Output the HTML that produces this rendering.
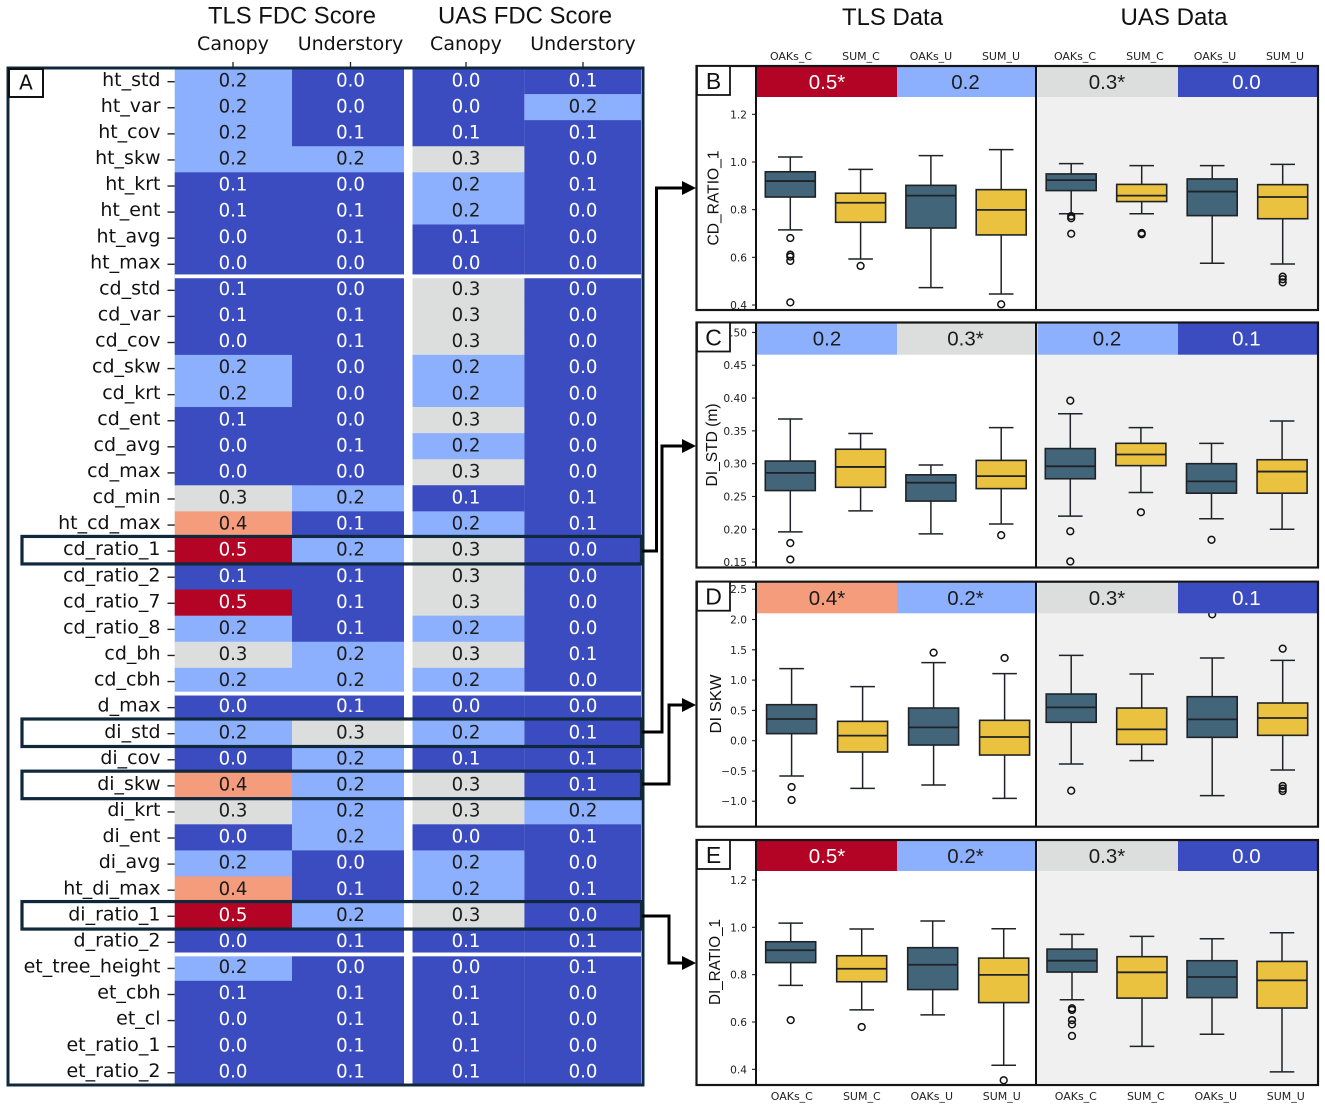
<!DOCTYPE html>
<html lang="en">
<head>
<meta charset="utf-8">
<title>FDC score heatmap and box plots</title>
<style>
html,body{margin:0;padding:0;background:#fff;}
body{width:1325px;height:1106px;overflow:hidden;}
svg{display:block;}
text{font-family:"DejaVu Sans","Liberation Sans",sans-serif;}
.lib{font-family:"Liberation Sans",sans-serif;}
</style>
</head>
<body>
<svg id="fig" xmlns="http://www.w3.org/2000/svg" width="1325" height="1106" viewBox="0 0 1325 1106">
  <rect x="0" y="0" width="1325" height="1106" fill="#fff"/>
  <text class="lib" x="292" y="23.5" font-size="24" text-anchor="middle" textLength="168" lengthAdjust="spacingAndGlyphs" fill="#111">TLS FDC Score</text>
  <text class="lib" x="525" y="23.5" font-size="24" text-anchor="middle" textLength="174" lengthAdjust="spacingAndGlyphs" fill="#111">UAS FDC Score</text>
  <text class="lib" x="892.5" y="25" font-size="24" text-anchor="middle" textLength="101" lengthAdjust="spacingAndGlyphs" fill="#111">TLS Data</text>
  <text class="lib" x="1174" y="25" font-size="24" text-anchor="middle" textLength="107" lengthAdjust="spacingAndGlyphs" fill="#111">UAS Data</text>
  <g id="heatmap"></g>
  <g id="panels"></g>
  <g fill="none" stroke="#000" stroke-width="3">
    <polyline points="642,551 656.5,551 656.5,188 684,188"/>
    <polygon points="682,181 696,188 682,195" fill="#000" stroke="none"/>
    <polyline points="642,732 662,732 662,446 684,446"/>
    <polygon points="682,439 696,446 682,453" fill="#000" stroke="none"/>
    <polyline points="642,784 669,784 669,705 684,705"/>
    <polygon points="682,698 696,705 682,712" fill="#000" stroke="none"/>
    <polyline points="642,916 669,916 669,963 684,963"/>
    <polygon points="682,956 696,963 682,970" fill="#000" stroke="none"/>
  </g>
</svg>
<script>
/* ---------- Heatmap data ---------- */
var rowLabels = ["ht_std","ht_var","ht_cov","ht_skw","ht_krt","ht_ent","ht_avg","ht_max","cd_std","cd_var","cd_cov","cd_skw","cd_krt","cd_ent","cd_avg","cd_max","cd_min","ht_cd_max","cd_ratio_1","cd_ratio_2","cd_ratio_7","cd_ratio_8","cd_bh","cd_cbh","d_max","di_std","di_cov","di_skw","di_krt","di_ent","di_avg","ht_di_max","di_ratio_1","d_ratio_2","et_tree_height","et_cbh","et_cl","et_ratio_1","et_ratio_2"];
var columnLabels = ["Canopy","Understory","Canopy","Understory"];
var tlsCanopy     = [0.2,0.2,0.2,0.2,0.1,0.1,0.0,0.0,0.1,0.1,0.0,0.2,0.2,0.1,0.0,0.0,0.3,0.4,0.5,0.1,0.5,0.2,0.3,0.2,0.0,0.2,0.0,0.4,0.3,0.0,0.2,0.4,0.5,0.0,0.2,0.1,0.0,0.0,0.0];
var tlsUnderstory = [0.0,0.0,0.1,0.2,0.0,0.1,0.1,0.0,0.0,0.1,0.1,0.0,0.0,0.0,0.1,0.0,0.2,0.1,0.2,0.1,0.1,0.1,0.2,0.2,0.1,0.3,0.2,0.2,0.2,0.2,0.0,0.1,0.2,0.1,0.0,0.1,0.1,0.1,0.1];
var uasCanopy     = [0.0,0.0,0.1,0.3,0.2,0.2,0.1,0.0,0.3,0.3,0.3,0.2,0.2,0.3,0.2,0.3,0.1,0.2,0.3,0.3,0.3,0.2,0.3,0.2,0.0,0.2,0.1,0.3,0.3,0.0,0.2,0.2,0.3,0.1,0.0,0.1,0.1,0.1,0.1];
var uasUnderstory = [0.1,0.2,0.1,0.0,0.1,0.0,0.0,0.0,0.0,0.0,0.0,0.0,0.0,0.0,0.0,0.0,0.1,0.1,0.0,0.0,0.0,0.0,0.1,0.0,0.0,0.1,0.1,0.1,0.2,0.1,0.0,0.1,0.0,0.1,0.1,0.0,0.0,0.0,0.0];
var groupBreakRows = ["ht_max","cd_cbh","d_ratio_2"];
var highlightedRows = ["cd_ratio_1","di_std","di_skw","di_ratio_1"];

/* ---------- Box-plot data ---------- */
var boxCategories = ["OAKs_C","SUM_C","OAKs_U","SUM_U","OAKs_C","SUM_C","OAKs_U","SUM_U"];

var cdRatio1Scores = [0.5,0.2,0.3,0.0];
var cdRatio1Signif = [true,false,true,false];
var cdRatio1Ticks  = [1.2,1.0,0.8,0.6,0.4];
var cdRatio1High   = [1.021,0.969,1.027,1.052,0.993,0.985,0.985,0.990];
var cdRatio1Q3     = [0.959,0.869,0.902,0.884,0.950,0.906,0.929,0.905];
var cdRatio1Median = [0.920,0.829,0.859,0.799,0.924,0.859,0.876,0.853];
var cdRatio1Q1     = [0.853,0.747,0.723,0.694,0.880,0.834,0.775,0.762];
var cdRatio1Low    = [0.715,0.593,0.473,0.446,0.783,0.783,0.575,0.572];
var cdRatio1Fliers = [[0.681,0.611,0.603,0.585,0.411],[0.564],[],[0.403],[0.773,0.764,0.699],[0.702,0.697],[],[0.519,0.508,0.495]];

var diStdScores = [0.2,0.3,0.2,0.1];
var diStdSignif = [false,true,false,false];
var diStdTicks  = [0.50,0.45,0.40,0.35,0.30,0.25,0.20,0.15];
var diStdHigh   = [0.368,0.346,0.298,0.355,0.376,0.355,0.331,0.365];
var diStdQ3     = [0.304,0.322,0.283,0.305,0.323,0.331,0.300,0.306];
var diStdMedian = [0.286,0.295,0.271,0.281,0.296,0.314,0.273,0.288];
var diStdQ1     = [0.259,0.264,0.243,0.262,0.277,0.297,0.255,0.255];
var diStdLow    = [0.196,0.228,0.193,0.208,0.220,0.256,0.216,0.200];
var diStdFliers = [[0.179,0.154],[],[],[0.191],[0.396,0.197,0.151],[0.226],[0.184],[]];

var diSkwScores = [0.4,0.2,0.3,0.1];
var diSkwSignif = [true,true,true,false];
var diSkwTicks  = [2.5,2.0,1.5,1.0,0.5,0.0,-0.5,-1.0];
var diSkwHigh   = [1.189,0.892,1.288,1.106,1.409,1.100,1.365,1.326];
var diSkwQ3     = [0.594,0.319,0.539,0.336,0.770,0.539,0.726,0.622];
var diSkwMedian = [0.358,0.083,0.220,0.061,0.550,0.187,0.352,0.374];
var diSkwQ1     = [0.116,-0.187,-0.072,-0.237,0.303,-0.061,0.055,0.088];
var diSkwLow    = [-0.583,-0.787,-0.732,-0.952,-0.385,-0.330,-0.908,-0.484];
var diSkwFliers = [[-0.765,-0.980],[],[1.453],[1.365],[-0.826],[],[2.086],[1.519,-0.748,-0.793,-0.831]];

var diRatio1Scores = [0.5,0.2,0.3,0.0];
var diRatio1Signif = [true,true,true,false];
var diRatio1Ticks  = [1.2,1.0,0.8,0.6,0.4];
var diRatio1High   = [1.018,0.993,1.027,0.994,0.970,0.962,0.952,0.977];
var diRatio1Q3     = [0.939,0.880,0.914,0.870,0.908,0.876,0.859,0.856];
var diRatio1Median = [0.903,0.825,0.842,0.799,0.859,0.810,0.790,0.776];
var diRatio1Q1     = [0.851,0.770,0.737,0.682,0.811,0.701,0.703,0.659];
var diRatio1Low    = [0.755,0.651,0.630,0.417,0.694,0.497,0.548,0.389];
var diRatio1Fliers = [[0.608],[0.579],[],[0.354],[0.658,0.651,0.608,0.590,0.541],[],[],[]];

/* ---------- Helpers ---------- */
var NS = "http://www.w3.org/2000/svg";
function mk(tag, attrs, parent, txt) {
  var e = document.createElementNS(NS, tag);
  for (var k in attrs) e.setAttribute(k, attrs[k]);
  if (txt !== undefined) e.textContent = txt;
  parent.appendChild(e);
  return e;
}
function scoreColor(v) {
  if (v < 0.15) return "#3b4cc0";
  if (v < 0.25) return "#8db0fe";
  if (v < 0.35) return "#dcdddd";
  if (v < 0.45) return "#f59c7d";
  return "#b40426";
}
function scoreTextColor(v) {
  return (v < 0.15 || v > 0.45) ? "#ffffff" : "#1c1c1c";
}

/* ---------- Heatmap ---------- */
var hm = document.getElementById("heatmap");
var columns = [tlsCanopy, tlsUnderstory, uasCanopy, uasUnderstory];
var hmTop = 66, rowStep = 26.08, cellShift = 2;
var colEdges = [[174.7,292],[292,404],[412.5,524.4],[524.4,641]];
var colCenters = [233,350.5,466,583];
function rowY(i) { return hmTop + rowStep * i; }
function cellY(i) { return rowY(i) + cellShift; }

var hmBg = mk("rect", {x:8.5, y:68, width:634, height:1017, fill:"#fff"}, hm);



columns.forEach(function (vals, c) {
  var lab = mk("text", {x:colCenters[c], y:50, "font-size":19, "text-anchor":"middle", fill:"#111"}, hm, columnLabels[c]);
  
  
  var tk = mk("line", {x1:colCenters[c], x2:colCenters[c], y1:62, y2:67, stroke:"#222", "stroke-width":1.3}, hm);
  
  
  vals.forEach(function (v, r) {
    var cell = mk("rect", {x:colEdges[c][0], y:cellY(r), width:colEdges[c][1]-colEdges[c][0], height:rowStep+0.4, fill:scoreColor(v)}, hm);
    
    
  });
});
groupBreakRows.forEach(function (name) {
  var r = rowLabels.indexOf(name);
  var brk = mk("rect", {x:174.7, y:cellY(r+1)-2.2, width:466.3, height:3.8, fill:"#fff"}, hm);
  
  
});
columns.forEach(function (vals, c) {
  vals.forEach(function (v, r) {
    var t = mk("text", {x:colCenters[c], y:rowY(r)+20.3, "font-size":19, "text-anchor":"middle", textLength:28.8, lengthAdjust:"spacingAndGlyphs", fill:scoreTextColor(v)}, hm, v.toFixed(1));
    
    
  });
});
rowLabels.forEach(function (name, r) {
  var t = mk("text", {x:160.5, y:rowY(r)+19.8, "font-size":19, "text-anchor":"end", fill:"#111"}, hm, name);
  
  
  var tk = mk("line", {x1:167.5, x2:174.7, y1:rowY(r)+15.7, y2:rowY(r)+15.7, stroke:"#222", "stroke-width":1.4}, hm);
  
  
});
var hmFrame = mk("rect", {x:8, y:68, width:635, height:1017, fill:"none", stroke:"#10283c", "stroke-width":3}, hm);


highlightedRows.forEach(function (name) {
  var r = rowLabels.indexOf(name);
  var h = mk("rect", {x:22, y:cellY(r)-1, width:619.5, height:27.5, fill:"none", stroke:"#10283c", "stroke-width":3.2}, hm);
  
  
});
var hmLetterBox = mk("rect", {x:9, y:69, width:34, height:28, fill:"#fff", stroke:"#111", "stroke-width":2}, hm);


var hmLetter = mk("text", {x:26, y:89.5, "font-size":20, "text-anchor":"middle", fill:"#111"}, hm, "A");



/* ---------- Box-plot panels ---------- */
var panelHost = document.getElementById("panels");
function drawPanel(p) {
  var g = mk("g", {}, panelHost);
  
  

  function y(v) { return p.refPx + (p.refVal - v) * p.pxPerUnit; }
  function x(i) { return i < 4 ? p.tls0 + p.tlsStep * i : p.uas0 + p.uasStep * (i - 4); }

  var left = 696.5, axisX = 756, mid = 1036, right = 1318, top = p.top, bottom = p.bottom, strip = p.strip;

  var bg = mk("rect", {x:left, y:top, width:right-left, height:bottom-top, fill:"#fff"}, g);
  
  
  var bgGrey = mk("rect", {x:mid, y:top, width:right-mid-2, height:bottom-top-2, fill:"#f0f0f0"}, g);
  
  

  p.ticks.forEach(function (t) {
    var tk = mk("line", {x1:752, x2:756, y1:y(t), y2:y(t), stroke:"#222", "stroke-width":1.1}, g);
    
    
    var label = t.toFixed(p.decimals).replace("-", "\u2212");
    var lb = mk("text", {x:747, y:y(t)+4, "font-size":10.6, "text-anchor":"end", fill:"#222"}, g, label);
    
    
  });

  boxCategories.forEach(function (cat, i) {
    var cx = x(i), col = i % 2 === 0 ? "#42657a" : "#ebc23f";
    var line = "#1f2226";
    var whisk = mk("line", {x1:cx, x2:cx, y1:y(p.high[i]), y2:y(p.low[i]), stroke:line, "stroke-width":1.5}, g);
    
    
    var capHi = mk("line", {x1:cx-12.3, x2:cx+12.3, y1:y(p.high[i]), y2:y(p.high[i]), stroke:line, "stroke-width":1.5}, g);
    
    
    var capLo = mk("line", {x1:cx-12.3, x2:cx+12.3, y1:y(p.low[i]), y2:y(p.low[i]), stroke:line, "stroke-width":1.5}, g);
    
    
    var box = mk("rect", {x:cx-25, y:y(p.q3[i]), width:50, height:y(p.q1[i])-y(p.q3[i]), fill:col, stroke:line, "stroke-width":1.6}, g);
    
    
    var med = mk("line", {x1:cx-25, x2:cx+25, y1:y(p.median[i]), y2:y(p.median[i]), stroke:line, "stroke-width":1.8}, g);
    
    
    p.fliers[i].forEach(function (f) {
      var c = mk("circle", {cx:cx, cy:y(f), r:3.4, fill:"none", stroke:"#111", "stroke-width":1.5}, g);
      
      
    });
  });

  var stripEdges = [757, 897, 1037.5, 1178, 1317];
  var stripCenters = [827, 965.5, 1107, 1246.4];
  p.scores.forEach(function (s, i) {
    var x0 = stripEdges[i], x1 = i === 1 ? 1035 : stripEdges[i+1];
    var sr = mk("rect", {x:x0, y:top+1, width:x1-x0, height:strip-top-1, fill:scoreColor(s)}, g);
    
    
    var st = mk("text", {"class":"lib", x:stripCenters[i], y:top+23.2, "font-size":20.5, "text-anchor":"middle", fill:scoreTextColor(s)}, g, s.toFixed(1) + (p.signif[i] ? "*" : ""));
    
    
  });

  var frame = mk("rect", {x:left, y:top, width:right-left, height:bottom-top, fill:"none", stroke:"#151515", "stroke-width":2.2}, g);
  
  
  var axisLine = mk("line", {x1:axisX, x2:axisX, y1:top, y2:bottom, stroke:"#111", "stroke-width":2}, g);
  
  
  var midLine = mk("line", {x1:mid, x2:mid, y1:top, y2:bottom, stroke:"#111", "stroke-width":2}, g);
  
  

  var lbox = mk("rect", {x:697, y:top, width:33, height:29, fill:"#fff", stroke:"#151515", "stroke-width":1.8}, g);
  
  
  var letter = mk("text", {"class":"lib", x:713.5, y:top+23, "font-size":23, "text-anchor":"middle", fill:"#111"}, g, p.letter);
  
  

  var title = mk("text", {"class":"lib", "font-size":16, "text-anchor":"middle", fill:"#111", textLength:p.titleLen, lengthAdjust:"spacingAndGlyphs", transform:"translate(" + p.titleX + "," + p.titleY + ") rotate(-90)"}, g, p.title);
  
  
}

drawPanel({letter:"B", title:"CD_RATIO_1", titleX:718.6, titleY:198, titleLen:95, top:66, bottom:310, strip:97, refVal:1.0, refPx:162, pxPerUnit:238.33, tls0:790.3, tlsStep:70.3, uas0:1071.2, uasStep:70.5, decimals:1, ticks:cdRatio1Ticks, scores:cdRatio1Scores, signif:cdRatio1Signif, high:cdRatio1High, q3:cdRatio1Q3, median:cdRatio1Median, q1:cdRatio1Q1, low:cdRatio1Low, fliers:cdRatio1Fliers});
drawPanel({letter:"C", title:"DI_STD (m)", titleX:717, titleY:445, titleLen:83, top:322.5, bottom:567.5, strip:354.7, refVal:0.30, refPx:463.67, pxPerUnit:656.2, tls0:790.3, tlsStep:70.3, uas0:1070.3, uasStep:70.6, decimals:2, ticks:diStdTicks, scores:diStdScores, signif:diStdSignif, high:diStdHigh, q3:diStdQ3, median:diStdMedian, q1:diStdQ1, low:diStdLow, fliers:diStdFliers});
drawPanel({letter:"D", title:"DI SKW", titleX:721, titleY:704, titleLen:59, top:581.7, bottom:826.7, strip:613.3, refVal:0, refPx:740.67, pxPerUnit:60.57, tls0:791.6, tlsStep:71, uas0:1071.2, uasStep:70.5, decimals:1, ticks:diSkwTicks, scores:diSkwScores, signif:diSkwSignif, high:diSkwHigh, q3:diSkwQ3, median:diSkwMedian, q1:diSkwQ1, low:diSkwLow, fliers:diSkwFliers});
drawPanel({letter:"E", title:"DI_RATIO_1", titleX:720, titleY:962, titleLen:86, top:840, bottom:1085, strip:871, refVal:1.0, refPx:927.33, pxPerUnit:236.67, tls0:790.7, tlsStep:71, uas0:1072, uasStep:70, decimals:1, ticks:diRatio1Ticks, scores:diRatio1Scores, signif:diRatio1Signif, high:diRatio1High, q3:diRatio1Q3, median:diRatio1Median, q1:diRatio1Q1, low:diRatio1Low, fliers:diRatio1Fliers});

function catLabelX(i, offset) { return (i < 4 ? 791 + 70 * i : 1075 + 70 * (i - 4)) + offset; }
boxCategories.forEach(function (cat, i) {
  var topLab = mk("text", {x:catLabelX(i, 0), y:60, "font-size":11, "text-anchor":"middle", fill:"#222"}, panelHost, cat);
  
  
  var botLab = mk("text", {x:catLabelX(i, 0.8), y:1100, "font-size":11, "text-anchor":"middle", fill:"#222"}, panelHost, cat);
  
  
});
</script>
</body>
</html>
